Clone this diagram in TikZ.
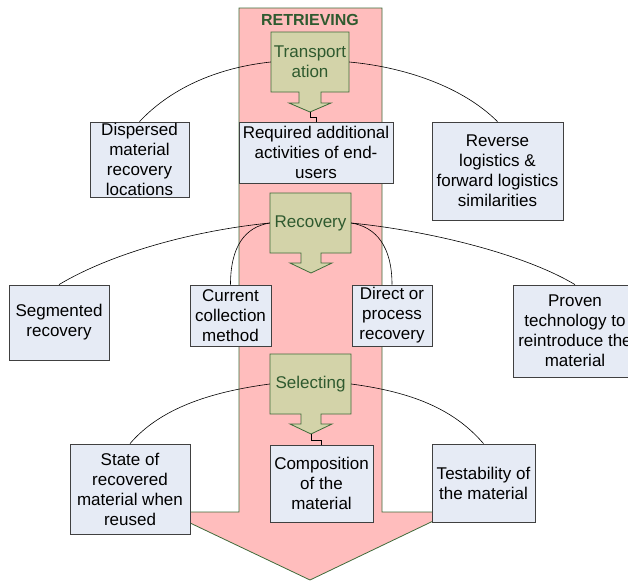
\documentclass[tikz,border=0pt]{standalone}
\usepackage{fontspec}
\setmainfont{Liberation Sans}
\begin{document}
\begin{tikzpicture}[x=1pt,y=-1pt,
  bigarrow/.style={fill=pinkfill,draw=greenline,line width=0.8pt,line join=miter},
  stagepath/.style={fill=olivefill,draw=greenline,line width=0.8pt,line join=miter},
  stagetext/.style={inner sep=0pt,text=greentext,align=center,
    font=\fontsize{17}{20}\selectfont},
  factor/.style={draw=boxline,fill=bluefill,line width=0.8pt,inner sep=0pt,
    align=center,font=\fontsize{17}{20}\selectfont},
  link/.style={draw=black,line width=0.6pt},
]
\definecolor{pinkfill}{HTML}{FFBDBD}
\definecolor{greenline}{HTML}{3F6B3A}
\definecolor{olivefill}{HTML}{D3D3A9}
\definecolor{greentext}{HTML}{2F5A2F}
\definecolor{bluefill}{HTML}{E6EBF5}
\definecolor{boxline}{HTML}{404040}

\useasboundingbox (0,0) rectangle (628,581);
\clip (0,0) rectangle (628,581);

% main downward arrow
\path[bigarrow] (239,8) -- (382,8) -- (382,512) -- (452,512) -- (310,580)
  -- (167,512) -- (239,512) -- cycle;
\node[inner sep=0pt,text=greentext,font=\fontsize{16}{18}\selectfont\bfseries]
  (title) at (310,20) {RETRIEVING};

% stage arrows
\path[stagepath] (271,32) -- (349,32) -- (349,92) -- (321,92) -- (321,103)
  -- (331,103) -- (310,112) -- (289,103) -- (299,103) -- (299,92) -- (271,92) -- cycle;
\node[stagetext,minimum width=78pt,minimum height=60pt] (trans) at (310,62)
  {Transport\\ation};
\coordinate (transtip) at (310,112);

\path[stagepath] (270,193) -- (351,193) -- (351,253) -- (321,253) -- (321,263)
  -- (332,263) -- (311,273) -- (290,263) -- (301,263) -- (301,253) -- (270,253) -- cycle;
\node[stagetext,minimum width=81pt,minimum height=60pt] (rec) at (310.5,223)
  {Recovery};

\path[stagepath] (270,354) -- (351,354) -- (351,414) -- (321,414) -- (321,424)
  -- (332,424) -- (311,434) -- (290,424) -- (301,424) -- (301,414) -- (270,414) -- cycle;
\node[stagetext,minimum width=81pt,minimum height=60pt] (sel) at (310.5,384)
  {Selecting};
\coordinate (seltip) at (311,434);

% factor boxes
\node[factor,minimum width=154pt,minimum height=61pt] (req) at (316,152.5)
  {Required additional\\activities of end-\\users};
\node[factor,minimum width=99pt,minimum height=75pt] (disp) at (139.5,159.5)
  {Dispersed\\material\\recovery\\locations};
\node[factor,minimum width=131pt,minimum height=98pt] (rev) at (497.5,171)
  {Reverse\\logistics \&\\forward logistics\\similarities};
\node[factor,minimum width=100pt,minimum height=75pt] (seg) at (59,322.5)
  {Segmented\\recovery};
\node[factor,minimum width=81pt,minimum height=61pt] (cur) at (230.5,315.5)
  {Current\\collection\\method};
\node[factor,minimum width=80pt,minimum height=61pt] (dir) at (392,315.5)
  {Direct or\\process\\recovery};
\node[factor,minimum width=124pt,minimum height=92pt] (prov) at (575,331)
  {Proven\\technology to\\reintroduce the\\material};
\node[factor,minimum width=120pt,minimum height=90pt] (state) at (130,489)
  {State of\\recovered\\material when\\reused};
\node[factor,minimum width=103pt,minimum height=77pt] (comp) at (321.5,483.5)
  {Composition\\of the\\material};
\node[factor,minimum width=103pt,minimum height=78pt] (test) at (483.5,483)
  {Testability of\\the material};

% connectors
\draw[link] (transtip) -- ++(0,5) -| (req.north);
\draw[link] (seltip) -- ++(0,6) -| (comp.north);

\draw[link] (disp.north) .. controls +(30,-32) and +(-56,6) .. (trans.west);
\draw[link] (rev.north) .. controls +(-35,-35) and +(55,5) .. (trans.east);

\draw[link] (seg.north) .. controls +(50,-30) and +(-80,8) .. (rec.west);
\draw[link] (cur.north) .. controls +(0,-38) and +(-25,4) .. (rec.west);
\draw[link] (dir.north) .. controls +(0,-38) and +(25,4) .. (rec.east);
\draw[link] (prov.north) .. controls +(-50,-30) and +(80,8) .. (rec.east);

\draw[link] (state.north) .. controls +(30,-35) and +(-60,8) .. (sel.west);
\draw[link] (test.north) .. controls +(-30,-35) and +(60,8) .. (sel.east);
\end{tikzpicture}
\end{document}
